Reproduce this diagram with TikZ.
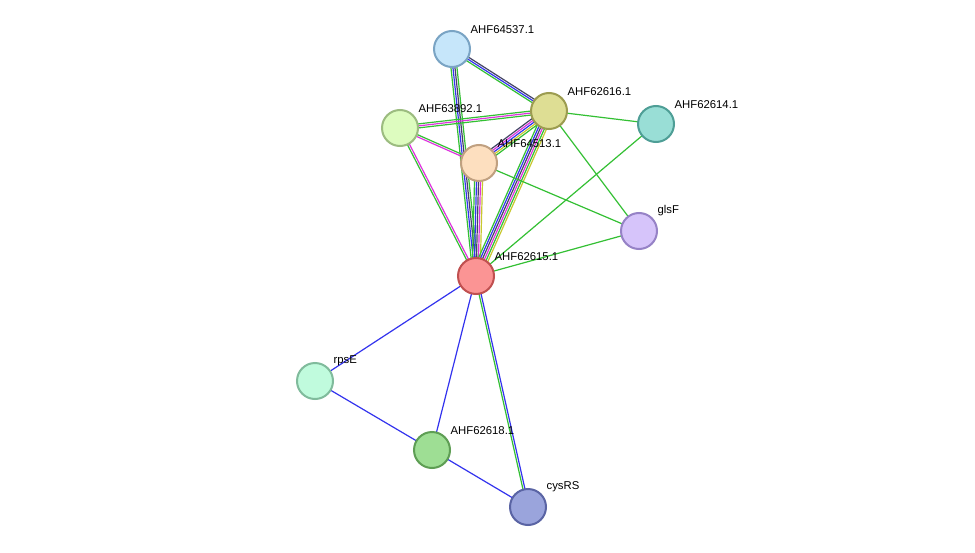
\documentclass[tikz,border=0pt]{standalone}
\usepackage{fontspec}
\setmainfont{Liberation Sans}
\usetikzlibrary{calc}
\definecolor{eg}{HTML}{33C033}
\definecolor{eb}{HTML}{3333EE}
\definecolor{em}{HTML}{DD33DD}
\definecolor{ey}{HTML}{C8C830}
\definecolor{ek}{HTML}{444466}
\tikzset{
  prot/.style={circle, minimum size=27pt, inner sep=0pt, line width=1.5pt},
  lab/.style={font=\fontsize{8.5pt}{9pt}\selectfont, anchor=south west, inner sep=1pt},
  edge/.style={line width=0.9pt}
}
% multi-coloured edge: #1 = from, #2 = to, #3 = list offset/colour
\newcommand{\medge}[3]{%
  \foreach \o/\c in {#3}
    \draw[edge,\c] ($(#1)!\o pt!90:(#2)$) -- ($(#2)!\o pt!-90:(#1)$);}
\begin{document}
\begin{tikzpicture}[x=0.75pt,y=-0.75pt]
  \fill[white] (0,0) rectangle (975,553);
  \useasboundingbox (0,0) rectangle (975,553);
  \coordinate (p37) at (452,49);
  \coordinate (p16) at (549,111);
  \coordinate (p14) at (656,124);
  \coordinate (p92) at (400,128);
  \coordinate (p13) at (479,163);
  \coordinate (gls) at (639,231);
  \coordinate (p15) at (476,276);
  \coordinate (rps) at (315,381);
  \coordinate (p18) at (432,450);
  \coordinate (cys) at (528,507);
  % edges
  \medge{p37}{p16}{-1.5/eg,0/eb,1.5/ek}
  \medge{p37}{p15}{-2.25/eg,-0.75/eb,0.75/ek,2.25/eg}
  \medge{p92}{p16}{-1.5/eg,0/em,1.5/eg}
  \medge{p92}{p13}{-0.75/em,0.75/eg}
  \medge{p92}{p15}{-0.75/eg,0.75/em}
  \medge{p13}{p16}{-3/eg,-1.5/ey,0/eb,1.5/em,3/ek}
  \medge{p13}{p15}{-3/eg,-1.5/eb,0/ek,1.5/em,3/ey}
  \medge{p16}{p15}{-3.75/eg,-2.25/eb,-0.75/ek,0.75/em,2.25/eg,3.75/ey}
  \medge{p16}{p14}{0/eg}
  \medge{p16}{gls}{0/eg}
  \medge{p13}{gls}{0/eg}
  \medge{p14}{p15}{0/eg}
  \medge{gls}{p15}{0/eg}
  \medge{p15}{rps}{0/eb}
  \medge{p15}{p18}{0/eb}
  \medge{p15}{cys}{-0.75/eg,0.75/eb}
  \medge{rps}{p18}{0/eb}
  \medge{p18}{cys}{0/eb}
  % nodes
  \node[prot, fill={rgb,255:red,198;green,230;blue,250}, draw={rgb,255:red,122;green,164;blue,196}] (n37) at (p37) {};
  \node[prot, fill={rgb,255:red,222;green,222;blue,148}, draw={rgb,255:red,156;green,156;blue,80}] (n16) at (p16) {};
  \node[prot, fill={rgb,255:red,153;green,222;blue,214}, draw={rgb,255:red,78;green,158;blue,150}] (n14) at (p14) {};
  \node[prot, fill={rgb,255:red,221;green,252;blue,191}, draw={rgb,255:red,156;green,188;blue,128}] (n92) at (p92) {};
  \node[prot, fill={rgb,255:red,253;green,223;blue,191}, draw={rgb,255:red,192;green,160;blue,128}] (n13) at (p13) {};
  \node[prot, fill={rgb,255:red,214;green,196;blue,250}, draw={rgb,255:red,150;green,130;blue,198}] (ngls) at (gls) {};
  \node[prot, fill={rgb,255:red,251;green,148;blue,148}, draw={rgb,255:red,192;green,80;blue,80}] (n15) at (p15) {};
  \node[prot, fill={rgb,255:red,192;green,251;blue,221}, draw={rgb,255:red,128;green,187;blue,156}] (nrps) at (rps) {};
  \node[prot, fill={rgb,255:red,158;green,222;blue,148}, draw={rgb,255:red,94;green,158;blue,84}] (n18) at (p18) {};
  \node[prot, fill={rgb,255:red,154;green,164;blue,220}, draw={rgb,255:red,90;green,100;blue,164}] (ncys) at (cys) {};
  % labels
  \node[lab] at ($(p37)+(17,-14)$) {AHF64537.1};
  \node[lab] at ($(p16)+(17,-14)$) {AHF62616.1};
  \node[lab] at ($(p14)+(17,-14)$) {AHF62614.1};
  \node[lab] at ($(p92)+(17,-14)$) {AHF63892.1};
  \node[lab] at ($(p13)+(17,-14)$) {AHF64513.1};
  \node[lab] at ($(gls)+(17,-14)$) {glsF};
  \node[lab] at ($(p15)+(17,-14)$) {AHF62615.1};
  \node[lab] at ($(rps)+(17,-14)$) {rpsE};
  \node[lab] at ($(p18)+(17,-14)$) {AHF62618.1};
  \node[lab] at ($(cys)+(17,-14)$) {cysRS};
\end{tikzpicture}
\end{document}
